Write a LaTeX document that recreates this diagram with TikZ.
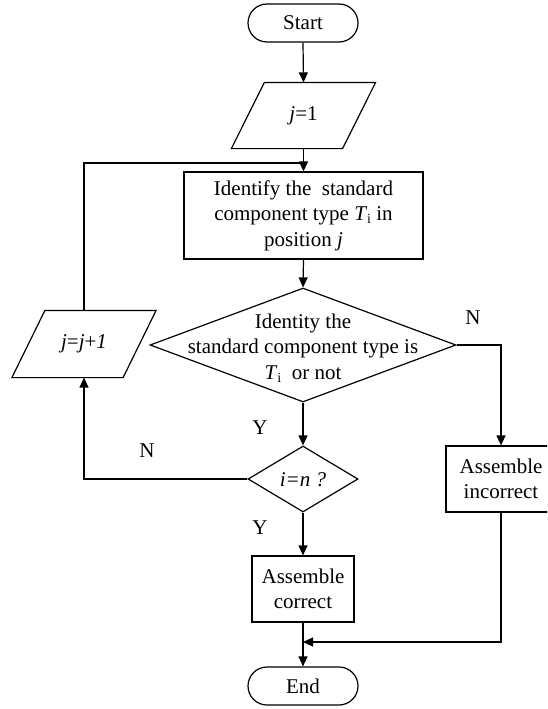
\documentclass[tikz,border=0pt]{standalone}
\usepackage{fontspec}
\setmainfont{Liberation Serif}
\usetikzlibrary{shapes.geometric,arrows.meta}
\newcommand{\Ti}{\textit{T}\raisebox{-3pt}{\fontsize{14}{14}\selectfont i}}
\begin{document}
\begin{tikzpicture}[x=1pt,y=-1pt, font=\fontsize{21}{25.5}\selectfont,
  line width=1.2pt, >={Triangle[length=10pt,width=9pt]},
  term/.style={draw, rounded corners=19pt, minimum width=110pt, minimum height=38pt, inner sep=0},
  proc/.style={draw, align=center, inner sep=0},
  dec/.style={draw, diamond, inner sep=0},
  txt/.style={align=center, inner sep=0},
  lbl/.style={inner sep=0},
  para/.style={minimum width=143pt, minimum height=65pt, inner sep=0}]
\useasboundingbox (0,0) rectangle (547,709);
\clip (0,0) rectangle (547,709);
\node[term] (start) at (303,23) {Start};
\node[para] (j1) at (303.5,115.5) {\textit{j}=1};
\node[proc, minimum width=239pt, minimum height=87pt] (id) at (303.5,215.5) {Identify the\ \ standard\\component type \Ti{} in\\position \textit{j}};
\node[dec, minimum width=306pt, minimum height=114pt] (d1) at (303,345) {};
\node[txt] (d1t) at (303,348) {Identity the\\standard component type is\\\Ti\ \ or not};
\node[dec, minimum width=110pt, minimum height=66pt] (d2) at (303,479) {};
\node[txt] (d2t) at (303,480) {\textit{i=n ?}};
\node[proc, minimum width=102pt, minimum height=66pt] (ok) at (303,589) {Assemble\\correct};
\node[proc, minimum width=110pt, minimum height=66pt] (bad) at (501,479) {Assemble\\incorrect};
\node[term] (end) at (303,686) {End};
\node[para, minimum height=66pt] (jj) at (84,344) {\textit{j}=\textit{j}+\textit{1}};
\foreach \p in {j1,jj}
  \draw (\p.south west) -- ([xshift=-33pt]\p.south east) -- (\p.north east) -- ([xshift=33pt]\p.north west) -- cycle;
\coordinate (merge) at (303,642);
\coordinate (fb) at (303.5,163);
\draw[->] (start.south) -- (j1.north);
\draw[->] (j1.south) -- (id.north);
\draw[->] (id.south) -- (d1.north);
\draw[->] (d1.south) -- (d2.north);
\draw[->] (d2.south) -- (ok.north);
\draw[->] (ok.south) -- (end.north);
\draw[->] (d1.east) -| (bad.north);
\draw[->] (bad.south) |- (merge);
\draw[->] (d2.west) -| (jj.south);
\draw (jj.north) |- (fb);
\node[lbl] (nR) at (473,318) {N};
\node[lbl] (y1) at (260,428) {Y};
\node[lbl] (nL) at (147,451) {N};
\node[lbl] (y2) at (260,528) {Y};
\end{tikzpicture}
\end{document}
